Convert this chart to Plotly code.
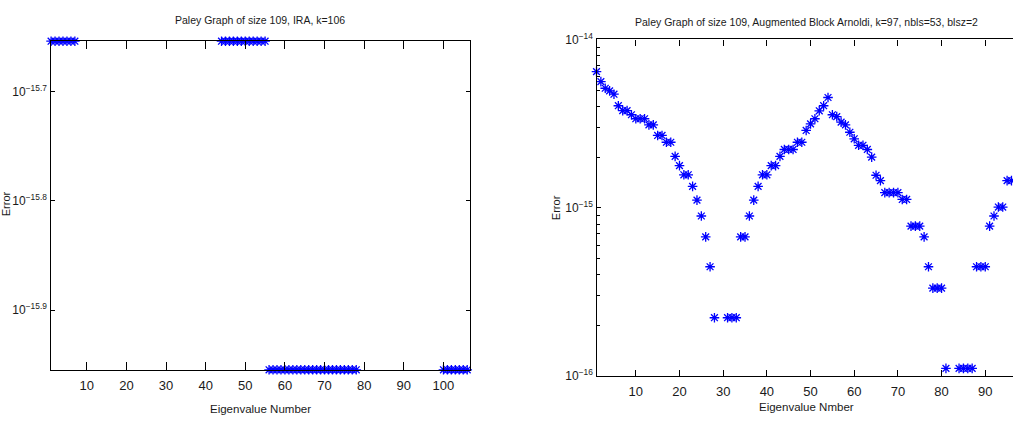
import plotly.graph_objects as go
import numpy as np

# --- data -------------------------------------------------------------
# Left panel: IRA on the Paley graph of size 109 (k = 106 eigenvalues)
# errors in units of 1e-16; None = exact (zero error, not drawn on log axis)
ira_idx = list(range(1, 107))
ira_err_e16 = [
    2.22, 2.22, 2.22, 2.22, 2.22, 2.22, 2.22, None, None, None,
    None, None, None, None, None, None, None, None, None, None,
    None, None, None, None, None, None, None, None, None, None,
    None, None, None, None, None, None, None, None, None, None,
    None, None, None, 2.22, 2.22, 2.22, 2.22, 2.22, 2.22, 2.22,
    2.22, 2.22, 2.22, 2.22, 2.22, 1.11, 1.11, 1.11, 1.11, 1.11,
    1.11, 1.11, 1.11, 1.11, 1.11, 1.11, 1.11, 1.11, 1.11, 1.11,
    1.11, 1.11, 1.11, 1.11, 1.11, 1.11, 1.11, 1.11, None, None,
    None, None, None, None, None, None, None, None, None, None,
    None, None, None, None, None, None, None, None, None, 1.11,
    1.11, 1.11, 1.11, 1.11, 1.11, 1.11,
]

# Right panel: Augmented Block Arnoldi (k = 97, nbls = 53, blsz = 2)
aba_idx = list(range(1, 98))
aba_err_e16 = [
    64.4, 56.2, 51.3, 49.5, 47.3, 40.4, 37.8, 37.8, 35.7, 33.8,
    33.8, 33.8, 31.1, 31.1, 26.9, 26.9, 24.5, 24.5, 20.2, 17.8,
    15.7, 15.7, 13.4, 11.1, 8.93, 6.71, 4.46, 2.22, None, None,
    2.22, 2.22, 2.22, 6.71, 6.71, 8.93, 11.1, 13.4, 15.7, 15.7,
    17.8, 17.8, 20.2, 22.2, 22.2, 22.2, 24.5, 24.5, 28.8, 31.5,
    33.8, 37.7, 40.4, 45.2, 35.7, 34.8, 32.3, 31.1, 28.1, 25.7,
    23.5, 23.5, 22.2, 20.0, 15.6, 14.5, 12.3, 12.3, 12.3, 12.3,
    11.2, 11.2, 7.78, 7.78, 7.78, 6.71, 4.46, 3.33, 3.33, 3.33,
    1.11, None, None, 1.11, 1.11, 1.11, 1.11, 4.46, 4.46, 4.46,
    7.78, 8.93, 10.1, 10.1, 14.5, 14.5, 14.5,
]

ira_err = [v * 1e-16 if v is not None else None for v in ira_err_e16]
aba_err = [v * 1e-16 if v is not None else None for v in aba_err_e16]

x_ticks = [10, 20, 30, 40, 50, 60, 70, 80, 90, 100]
left_ytick_exp = [-15.9, -15.8, -15.7]
right_ytick_exp = [-16, -15, -14]

titles = [
    "Paley Graph of size 109, IRA, k=106",
    "Paley Graph of size 109, Augmented Block Arnoldi, k=97, nbls=53, blsz=2",
]
x_titles = ["Eigenvalue Number", "Eigenvalue Nmber"]
y_title = "Error"

# --- styling ----------------------------------------------------------
W, H = 1013, 421
FONT = "Liberation Sans Narrow, Arial Narrow, Liberation Sans, Arial, sans-serif"
TXT = "#1a1a1a"
BLUE = "#0000ff"

def px_x(p):
    return p / W

def px_y(p):
    return 1 - p / H

fig = go.Figure()

marker = dict(symbol="asterisk-open", size=8, color=BLUE,
              line=dict(color=BLUE, width=1.3))

fig.add_trace(go.Scatter(x=ira_idx, y=ira_err, mode="markers", marker=marker,
                         cliponaxis=False, xaxis="x", yaxis="y",
                         showlegend=False))
fig.add_trace(go.Scatter(x=aba_idx, y=aba_err, mode="markers", marker=marker,
                         cliponaxis=False, xaxis="x2", yaxis="y2",
                         showlegend=False))

# tight log limits around the data (tiny pad keeps edge markers drawn)
valid_ira = [v for v in ira_err if v is not None]
pad = 0.0004
left_yrange = [np.log10(min(valid_ira)) - pad, np.log10(max(valid_ira)) + pad]

axis_common = dict(showline=True, linecolor="black", linewidth=1.4,
                   showgrid=False, zeroline=False, ticks="inside",
                   tickcolor="black", tickwidth=1)
xtick_font = dict(family=FONT, size=13, color=TXT)
ytick_font = dict(family=FONT, size=12, color=TXT)

fig.update_layout(
    width=W, height=H,
    margin=dict(l=0, r=0, t=0, b=0),
    paper_bgcolor="white", plot_bgcolor="white",
    xaxis=dict(domain=[px_x(50.5), px_x(470)], range=[0.85, 106.7],
               tickvals=x_ticks, ticklen=8, mirror="ticks",
               ticklabelstandoff=3,
               anchor="y", tickfont=xtick_font, **axis_common),
    yaxis=dict(domain=[px_y(375.5), px_y(33)], type="log", range=left_yrange,
               tickvals=[10 ** e for e in left_ytick_exp],
               ticktext=["10<sup>\u2212%s</sup>" % str(-e) for e in left_ytick_exp],
               ticklen=4, mirror="ticks", anchor="x", tickfont=ytick_font,
               **axis_common),
    xaxis2=dict(domain=[px_x(596.5), 1.0], range=[1, 96.35],
                tickvals=x_ticks[:9], ticklen=6, mirror="ticks",
                ticklabelstandoff=3,
                anchor="y2", tickfont=xtick_font, **axis_common),
    yaxis2=dict(domain=[px_y(381.5), px_y(31.7)], type="log",
                range=[right_ytick_exp[0], right_ytick_exp[-1]],
                tickvals=[10.0 ** e for e in right_ytick_exp],
                ticktext=["10<sup>\u2212%d</sup>" % (-e) for e in right_ytick_exp],
                ticklen=4, mirror=False, anchor="x2", tickfont=ytick_font,
                minor=dict(ticks="inside", ticklen=3, tickcolor="black",
                           tickwidth=1, dtick="D1", showgrid=False),
                **axis_common),
)

title_font = dict(family=FONT, size=10.5, color=TXT)
xt_font = dict(family=FONT, size=11.5, color=TXT)
yt_font = dict(family="Liberation Sans, Arial, sans-serif", size=11, color=TXT)
annotations = [
    dict(text=titles[0], x=px_x(260), y=px_y(11), xref="paper", yref="paper",
         showarrow=False, font=title_font, xanchor="center", yanchor="middle"),
    dict(text=titles[1], x=px_x(806), y=px_y(13), xref="paper", yref="paper",
         showarrow=False, font=title_font, xanchor="center", yanchor="middle"),
    dict(text=x_titles[0], x=px_x(260), y=px_y(416), xref="paper", yref="paper",
         showarrow=False, font=xt_font, xanchor="center", yanchor="middle"),
    dict(text=x_titles[1], x=px_x(806), y=px_y(414), xref="paper", yref="paper",
         showarrow=False, font=xt_font, xanchor="center", yanchor="middle"),
    dict(text=y_title, x=px_x(6), y=px_y(203), xref="paper", yref="paper",
         showarrow=False, font=yt_font,
         textangle=-90, xanchor="center", yanchor="middle"),
    dict(text=y_title, x=px_x(556), y=px_y(207), xref="paper", yref="paper",
         showarrow=False, font=yt_font,
         textangle=-90, xanchor="center", yanchor="middle"),
]
fig.update_layout(annotations=annotations)

# page chrome: no body margin or scrollbars around the fixed-size figure
page_css = ("document.documentElement.style.margin='0';"
            "document.body.style.margin='0';"
            "document.body.style.overflow='hidden';")

fig.write_html("out.html", post_script=page_css)
